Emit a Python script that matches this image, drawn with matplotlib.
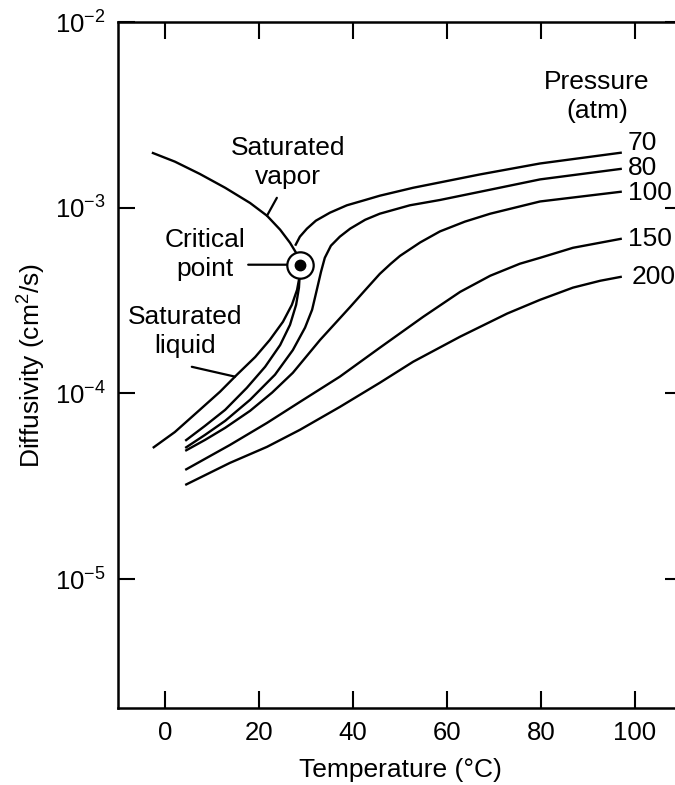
import matplotlib
matplotlib.use("Agg")
import matplotlib.pyplot as plt

plt.rcParams['font.family'] = ['Liberation Sans', 'DejaVu Sans']
plt.rcParams['mathtext.fontset'] = 'custom'
plt.rcParams['mathtext.rm'] = 'Liberation Sans'
plt.rcParams['mathtext.it'] = 'Liberation Sans:italic'
plt.rcParams['mathtext.bf'] = 'Liberation Sans:bold'

# ---- data (temperature in degC, diffusivity in cm^2/s) ----
sat_vap_T = [-2.8, 2.1, 7.4, 12.8, 18.1, 21.7, 24.5, 26.6, 27.9, 28.7]
sat_vap_D = [1.98e-3, 1.77e-3, 1.52e-3, 1.28e-3, 1.06e-3, 9.05e-4, 7.61e-4, 6.47e-4, 5.71e-4, 4.93e-4]

sat_liq_T = [-2.6, 2.1, 7.4, 11.7, 15.3, 19.2, 22.3, 25.1, 27.0, 28.1, 28.7, 28.7]
sat_liq_D = [5.08e-5, 6.19e-5, 8.15e-5, 1.02e-4, 1.26e-4, 1.57e-4, 1.94e-4, 2.43e-4,
             3.00e-4, 3.61e-4, 4.35e-4, 4.93e-4]

crit_T = 28.7
crit_D = 4.93e-4

p70_liq_T = [4.3, 8.5, 12.8, 17.4, 21.3, 24.5, 26.6, 27.9, 28.5, 28.7]
p70_liq_D = [5.55e-5, 6.68e-5, 8.15e-5, 1.07e-4, 1.39e-4, 1.82e-4, 2.34e-4, 3.00e-4, 3.71e-4, 4.52e-4]
p70_vap_T = [27.7, 28.7, 30.2, 32.1, 35.1, 38.7, 42.6, 45.7, 52.8, 67.0, 79.8, 97.2]
p70_vap_D = [6.24e-4, 6.98e-4, 7.71e-4, 8.51e-4, 9.40e-4, 1.03e-3, 1.10e-3, 1.16e-3,
             1.28e-3, 1.51e-3, 1.73e-3, 1.98e-3]

p80_T = [4.3, 8.5, 12.8, 18.1, 23.4, 27.2, 29.8, 31.3, 32.3, 33.2, 34.0, 35.3, 37.2, 39.4,
         42.6, 45.7, 52.1, 58.5, 69.2, 79.8, 97.2]
p80_D = [5.08e-5, 5.97e-5, 7.11e-5, 9.23e-5, 1.26e-4, 1.71e-4, 2.26e-4, 2.82e-4, 3.61e-4,
         4.52e-4, 5.37e-4, 6.24e-4, 6.98e-4, 7.71e-4, 8.61e-4, 9.28e-4, 1.03e-3, 1.10e-3,
         1.25e-3, 1.42e-3, 1.62e-3]

p100_T = [4.3, 8.5, 12.8, 18.1, 22.8, 27.2, 33.0, 39.4, 42.6, 45.7, 48.0, 50.0, 54.3, 58.5,
          63.8, 69.2, 79.8, 97.2]
p100_D = [4.90e-5, 5.61e-5, 6.52e-5, 8.05e-5, 1.01e-4, 1.29e-4, 1.94e-4, 2.92e-4, 3.60e-4,
          4.40e-4, 4.98e-4, 5.50e-4, 6.50e-4, 7.45e-4, 8.41e-4, 9.28e-4, 1.08e-3, 1.22e-3]

p150_T = [4.3, 13.8, 21.7, 28.7, 37.2, 45.7, 54.9, 62.8, 69.2, 75.5, 79.8, 86.8, 97.2]
p150_D = [3.87e-5, 5.27e-5, 6.93e-5, 8.99e-5, 1.23e-4, 1.76e-4, 2.58e-4, 3.52e-4, 4.30e-4,
          4.99e-4, 5.37e-4, 6.08e-4, 6.81e-4]

p200_T = [4.3, 13.8, 21.7, 28.7, 37.2, 45.7, 52.8, 62.8, 72.8, 79.8, 86.8, 92.6, 97.2]
p200_D = [3.21e-5, 4.22e-5, 5.15e-5, 6.36e-5, 8.45e-5, 1.14e-4, 1.48e-4, 2.02e-4, 2.69e-4,
          3.19e-4, 3.71e-4, 4.04e-4, 4.25e-4]

pressure_labels = ['70', '80', '100', '150', '200']
x_ticks = [0, 20, 40, 60, 80, 100]
y_ticks = [1e-5, 1e-4, 1e-3, 1e-2]

# ---- figure ----
fig = plt.figure(figsize=(6.75, 7.85), dpi=100)
ax = fig.add_axes([118/675, 1 - 708/785, (682 - 118)/675, (708 - 22)/785])

lw = 1.7
curves = [(sat_vap_T, sat_vap_D), (sat_liq_T, sat_liq_D),
          (p70_liq_T, p70_liq_D), (p70_vap_T, p70_vap_D),
          (p80_T, p80_D), (p100_T, p100_D), (p150_T, p150_D), (p200_T, p200_D)]
for t, d in curves:
    ax.plot(t, d, color='black', lw=lw, solid_capstyle='butt', solid_joinstyle='round')

# critical point marker
ax.plot([crit_T], [crit_D], marker='o', ms=19, mfc='white', mec='black', mew=1.6, zorder=5)
ax.plot([crit_T], [crit_D], marker='o', ms=7.5, mfc='black', mec='black', zorder=6)

ax.set_yscale('log')
ax.set_xlim(-10, 110)
ax.set_ylim(2.02e-6, 1e-2)
ax.set_xticks(x_ticks)
ax.set_yticks(y_ticks)
ax.minorticks_off()
ax.tick_params(direction='in', length=12, width=1.5, top=True, right=True,
               labelsize=18.5, colors='black')
ax.tick_params(axis='x', pad=9)
ax.tick_params(axis='y', pad=9)
for s in ax.spines.values():
    s.set_linewidth(1.8)
ax.spines['right'].set_visible(False)

ax.set_xlabel('Temperature (°C)', fontsize=19, labelpad=10)
ax.set_ylabel('Diffusivity (cm$^2$/s)', fontsize=19, labelpad=5)

fs = 19
ls = 1.28
# annotation texts
ax.text(26.2, 1.75e-3, 'Saturated\nvapor', ha='center', va='center', fontsize=fs, linespacing=ls)
ax.text(8.5, 5.58e-4, 'Critical\npoint', ha='center', va='center', fontsize=fs, linespacing=ls)
ax.text(4.3, 2.15e-4, 'Saturated\nliquid', ha='center', va='center', fontsize=fs, linespacing=ls)
ax.text(91.9, 3.96e-3, 'Pressure\n(atm)', ha='center', va='center', fontsize=fs, linespacing=ls)

# pointer lines
pl = dict(arrowstyle='-', color='black', lw=1.6, shrinkA=0, shrinkB=0)
ax.annotate('', xy=(21.7, 9.05e-4), xytext=(23.8, 1.13e-3), arrowprops=pl)
ax.annotate('', xy=(26.0, crit_D), xytext=(17.7, crit_D), arrowprops=pl)
ax.annotate('', xy=(14.9, 1.23e-4), xytext=(5.7, 1.39e-4), arrowprops=pl)

label_T = [98.5, 98.5, 98.5, 98.5, 99.3]
ends = [p70_vap_D[-1], p80_D[-1], p100_D[-1], p150_D[-1], p200_D[-1]]
offs = [1.12, 1.01, 0.985, 1.0, 1.0]
for lab, t, d, o in zip(pressure_labels, label_T, ends, offs):
    ax.text(t, d * o, lab, ha='left', va='center', fontsize=fs)

fig.savefig('out.png', dpi=100)
